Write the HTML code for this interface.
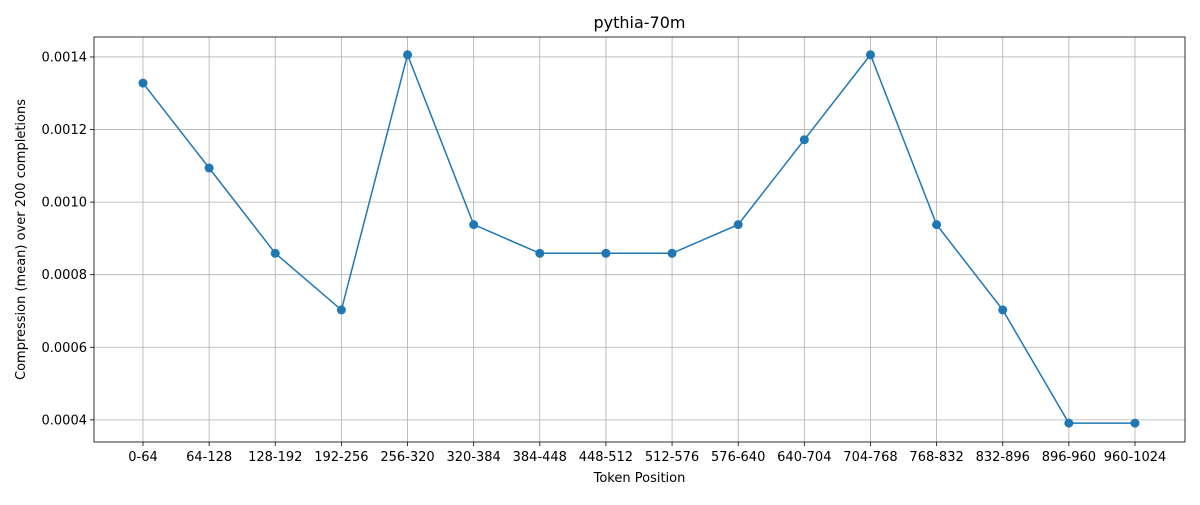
<!DOCTYPE html>
<html><head><meta charset="utf-8"><style>
body{margin:0;background:#fff;font-family:"Liberation Sans","DejaVu Sans",sans-serif}
svg text{font-family:"DejaVu Sans","Liberation Sans",sans-serif}
</style></head><body>
<svg id="chart" width="1200" height="500" xmlns="http://www.w3.org/2000/svg">
<rect width="1200" height="500" fill="#fff"/>
<g id="grid"></g><g id="axes"></g><g id="series"></g>
<text x="639.5" y="28" font-size="16" text-anchor="middle">pythia-70m</text>
<text x="639.5" y="482" font-size="13" text-anchor="middle">Token Position</text>
<text transform="translate(25,239.5) rotate(-90)" font-size="13" text-anchor="middle">Compression (mean) over 200 completions</text>
</svg>
<script>
const categories=["0-64","64-128","128-192","192-256","256-320","320-384","384-448","448-512","512-576","576-640","640-704","704-768","768-832","832-896","896-960","960-1024"];
const values=[0.001328,0.001094,0.000859,0.000703,0.001406,0.000938,0.000859,0.000859,0.000859,0.000938,0.001172,0.001406,0.000938,0.000703,0.000391,0.000391];
const yTicks=[0.0004,0.0006,0.0008,0.0010,0.0012,0.0014];
const yTickLabels=["0.0004","0.0006","0.0008","0.0010","0.0012","0.0014"];
const L=94,R=1185,T=37,B=442;
const yMin=0.000339,yMax=0.001455;
const x=i=>143+i*(1135-143)/(categories.length-1);
const y=v=>B-(v-yMin)/(yMax-yMin)*(B-T);
const NS="http://www.w3.org/2000/svg";
function mk(tag,attrs,parent){const e=document.createElementNS(NS,tag);for(const k in attrs)e.setAttribute(k,attrs[k]);parent.appendChild(e);return e;}
const grid=document.getElementById('grid'),axes=document.getElementById('axes'),series=document.getElementById('series');
categories.forEach((c,i)=>{
 const g=mk('line',{x1:x(i),x2:x(i),y1:T,y2:B,stroke:'#b0b0b0','stroke-width':0.8},grid);
 
 
 mk('line',{x1:x(i),x2:x(i),y1:B,y2:B+4,stroke:'#000','stroke-width':0.8},axes);
 const t=mk('text',{x:x(i),y:B+19,'font-size':13,'text-anchor':'middle'},axes);t.textContent=c;
 
 
});
yTicks.forEach((v,i)=>{
 const g=mk('line',{x1:L,x2:R,y1:y(v),y2:y(v),stroke:'#b0b0b0','stroke-width':0.8},grid);
 
 
 mk('line',{x1:L-4,x2:L,y1:y(v),y2:y(v),stroke:'#000','stroke-width':0.8},axes);
 const t=mk('text',{x:L-7,y:y(v)+4.5,'font-size':13,'text-anchor':'end'},axes);t.textContent=yTickLabels[i];
 
 
});
const fr=mk('rect',{x:L,y:T,width:R-L,height:B-T,fill:'none',stroke:'#000','stroke-width':0.8},axes);


const pl=mk('polyline',{points:values.map((v,i)=>x(i)+','+y(v)).join(' '),fill:'none',stroke:'#1f77b4','stroke-width':1.5},series);


values.forEach((v,i)=>{
 const c=mk('circle',{cx:x(i),cy:y(v),r:4.5,fill:'#1f77b4'},series);
 
 
});
</script>
</body></html>
